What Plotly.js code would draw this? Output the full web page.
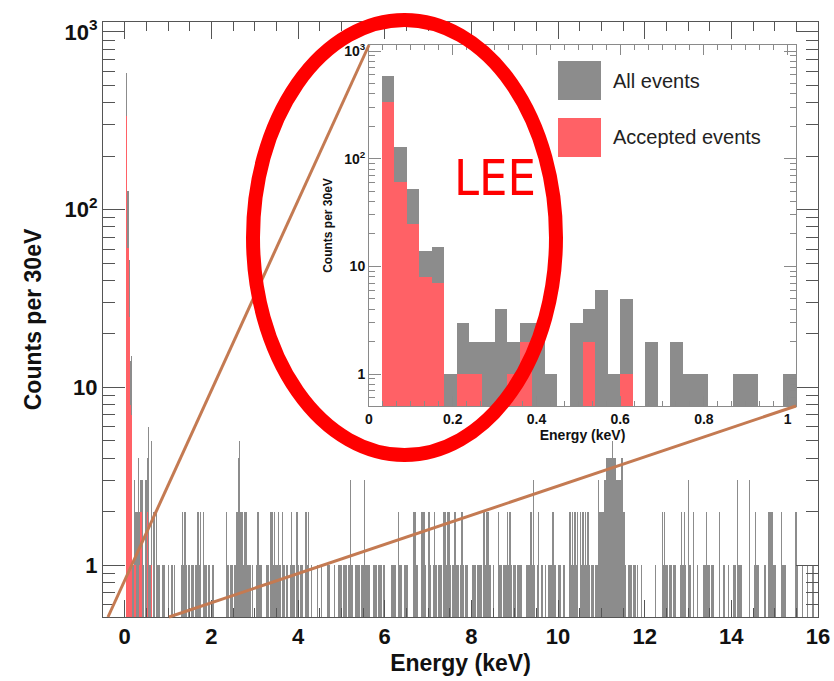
<!DOCTYPE html>
<html><head><meta charset="utf-8">
<script src="https://cdn.plot.ly/plotly-3.0.1.min.js"></script>
<style>html,body{margin:0;padding:0;background:#fff;}#chart{width:834px;height:681px;}</style>
</head><body><div id="chart"></div>
<script>
// ---- data: counts per 30 eV bin, bin i covers [0.03*i, 0.03*(i+1)] keV ----
const binWidthKeV = 0.03;
const allEventCounts = [
  0,590,128,52,14,15,1,3,2,2,   4,2,3,3,1,0,3,4,6,1,   5,0,2,0,2,1,1,0,0,1,
  1,0,0,1,0,0,1,0,1,0,          0,0,0,1,2,1,2,1,0,1,   0,1,1,0,1,1,2,1,2,0,
  2,1,1,0,1,1,0,1,1,0,          0,0,0,0,0,0,0,0,2,1,   0,1,1,0,1,1,2,4,5,2,
  2,1,2,2,1,1,1,0,1,0,          0,1,2,1,1,1,0,0,0,1,   1,0,2,2,1,2,1,1,2,1,
  0,2,1,0,1,1,0,1,2,1,          1,0,2,1,0,1,1,0,0,2,   1,2,0,1,0,0,0,0,1,0,
  0,1,0,0,0,0,1,1,0,0,          0,1,0,0,1,1,1,0,1,1,   1,0,1,3,1,1,0,1,1,1,
  1,0,1,1,3,1,1,1,1,0,          0,1,1,1,0,1,1,1,0,1,   0,0,0,0,0,1,1,1,1,0,
  2,1,1,0,0,1,1,1,0,0,          0,0,2,2,1,1,0,0,2,2,   2,1,0,2,2,1,0,1,2,1,
  0,1,1,1,0,2,2,1,2,2,          1,0,1,2,2,1,1,0,1,2,   1,0,1,1,0,0,0,1,1,1,
  0,1,1,1,1,0,2,1,2,2,          1,1,0,1,0,0,0,2,1,1,   0,1,1,1,2,1,2,1,0,1,
  1,0,1,1,1,1,0,0,0,1,          1,1,2,1,3,1,0,1,2,0,   1,1,0,1,0,0,1,1,1,2,
  1,1,0,1,1,1,0,1,1,0,          0,0,2,1,2,1,2,1,2,0,   2,1,2,1,2,1,2,1,0,1,
  1,0,1,1,3,2,2,2,2,3,          4,4,4,4,4,5,4,4,3,3,   3,3,4,2,2,1,0,1,1,1,
  0,1,1,0,1,0,0,1,0,0,          0,0,0,0,0,0,0,0,1,0,   0,0,0,2,1,2,1,1,0,1,
  1,0,1,1,0,0,0,1,2,1,          2,1,0,3,1,1,0,2,0,0,   1,0,0,0,0,1,1,2,1,1,
  0,1,1,0,0,0,0,2,0,0,          1,1,0,0,1,0,0,0,1,1,   0,3,1,1,1,0,0,0,0,0,
  3,0,0,0,1,2,1,1,0,0,          0,0,1,0,0,2,2,2,2,1,   1,0,0,0,0,2,1,1,1,0,
  0,0,0,0,0,0,2,1,0,0,          0,1,0,0,0,1,0,0,0,1,   0,0,0,1
];
const acceptedEventCounts = [0,337,61,25,8,7,0,1,1,0,0,1,2,0,0,0,0,2,0,0,1];
const seriesNames = ['All events', 'Accepted events'];
const mainXTitle = 'Energy (keV)';
const mainYTitle = 'Counts per 30eV';
const yTickVals = [1, 10, 100, 1000];
const yTickText = ['1', '10', '10<sup>2</sup>', '10<sup>3</sup>'];
const calloutLabel = 'LEE';

// ---- build histogram points (non-empty bins only) ----
function toBars(counts) {
  const xs = [], ys = [];
  counts.forEach((c, i) => { if (c > 0) { xs.push((i + 0.5) * binWidthKeV); ys.push(c); } });
  return {xs, ys};
}
const allBars = toBars(allEventCounts);
const accBars = toBars(acceptedEventCounts);

const grey = '#8c8c8c';
const red = '#ff6166';
const frame = '#555555';
const insetFrame = '#8a8a8a';
const boldFont = 'Liberation Sans, Arial, sans-serif';

const minorLogVals = [];
[0.1, 1, 10, 100].forEach(d => { for (let k = 2; k <= 9; k++) minorLogVals.push(k * d); });

const traces = [
  {type: 'bar', x: allBars.xs, y: allBars.ys, width: binWidthKeV, name: seriesNames[0],
   marker: {color: grey, line: {width: 0}}, xaxis: 'x', yaxis: 'y', showlegend: false, hoverinfo: 'x+y'},
  {type: 'bar', x: accBars.xs, y: accBars.ys, width: binWidthKeV, name: seriesNames[1],
   marker: {color: red, line: {width: 0}}, xaxis: 'x', yaxis: 'y', showlegend: false, hoverinfo: 'x+y'},
  {type: 'bar', x: allBars.xs, y: allBars.ys, width: binWidthKeV, name: seriesNames[0],
   marker: {color: grey, line: {width: 0}}, xaxis: 'x2', yaxis: 'y2', showlegend: false, hoverinfo: 'x+y'},
  {type: 'bar', x: accBars.xs, y: accBars.ys, width: binWidthKeV, name: seriesNames[1],
   marker: {color: red, line: {width: 0}}, xaxis: 'x2', yaxis: 'y2', showlegend: false, hoverinfo: 'x+y'}
];

// plot-area geometry helpers (pixel -> paper)
const L = 103, R = 818, T = 22, B = 617;
const px = v => (v - L) / (R - L);
const py = v => (B - v) / (B - T);

const insetDomX = [px(369), px(796)];
const insetDomY = [py(406), py(45)];

const layout = {
  width: 834, height: 681,
  margin: {l: L, r: 834 - R, t: T, b: 681 - B, pad: 0},
  paper_bgcolor: '#ffffff', plot_bgcolor: 'rgba(0,0,0,0)',
  barmode: 'overlay', bargap: 0,
  showlegend: false,
  xaxis: {
    domain: [0, 1], range: [-0.5, 16], tick0: 0, dtick: 2,
    ticks: 'inside', ticklen: 17, tickwidth: 1, tickcolor: frame,
    showline: true, linecolor: frame, linewidth: 1, mirror: 'allticks',
    showgrid: false, zeroline: false, automargin: false,
    minor: {ticks: 'inside', ticklen: 9, tickcolor: frame, tickwidth: 1, dtick: 0.5, tick0: 0, showgrid: false},
    tickfont: {family: boldFont, size: 22, color: '#111', weight: 'bold'},
    title: {text: mainXTitle, font: {family: boldFont, size: 23, color: '#111', weight: 'bold'}, standoff: 6}
  },
  yaxis: {
    domain: [0, 1], type: 'log', range: [-0.292, 3.056],
    tickmode: 'array', tickvals: yTickVals, ticktext: yTickText,
    ticks: 'inside', ticklen: 22, tickwidth: 1, tickcolor: frame,
    showline: true, linecolor: frame, linewidth: 1, mirror: 'allticks',
    showgrid: false, zeroline: false, automargin: false,
    minor: {ticks: 'inside', ticklen: 12, tickcolor: frame, tickwidth: 1, tickmode: 'array', tickvals: minorLogVals, showgrid: false},
    tickfont: {family: boldFont, size: 22, color: '#111', weight: 'bold'},
    title: {text: mainYTitle, font: {family: boldFont, size: 23, color: '#111', weight: 'bold'}, standoff: 16}
  },
  xaxis2: {
    anchor: 'y2', domain: insetDomX, range: [0, 1.02], tick0: 0, dtick: 0.2,
    ticks: 'inside', ticklen: 10, tickwidth: 1, tickcolor: insetFrame,
    showline: true, linecolor: insetFrame, linewidth: 1, mirror: 'allticks',
    showgrid: false, zeroline: false,
    minor: {ticks: 'inside', ticklen: 5, tickcolor: insetFrame, tickwidth: 1, dtick: 0.2 / 6, tick0: 0, showgrid: false},
    tickfont: {family: boldFont, size: 14, color: '#111', weight: 'bold'},
    title: {text: mainXTitle, font: {family: boldFont, size: 14, color: '#111', weight: 'bold'}, standoff: 2}
  },
  yaxis2: {
    anchor: 'x2', domain: insetDomY, type: 'log', range: [-0.297, 3.056],
    tickmode: 'array', tickvals: yTickVals, ticktext: yTickText,
    ticks: 'inside', ticklen: 12, tickwidth: 1, tickcolor: insetFrame,
    showline: true, linecolor: insetFrame, linewidth: 1, mirror: 'allticks',
    showgrid: false, zeroline: false,
    minor: {ticks: 'inside', ticklen: 6, tickcolor: insetFrame, tickwidth: 1, tickmode: 'array', tickvals: minorLogVals, showgrid: false},
    tickfont: {family: boldFont, size: 14, color: '#111', weight: 'bold'},
    title: {text: mainYTitle, font: {family: boldFont, size: 12, color: '#111', weight: 'bold'}, standoff: 8}
  },
  shapes: [
    // legend swatches inside inset
    {type: 'rect', xref: 'paper', yref: 'paper', x0: px(558), x1: px(601), y0: py(100), y1: py(61),
     fillcolor: grey, line: {width: 0}},
    {type: 'rect', xref: 'paper', yref: 'paper', x0: px(558), x1: px(601), y0: py(157), y1: py(118),
     fillcolor: red, line: {width: 0}},
    // zoom connector lines
    {type: 'line', xref: 'paper', yref: 'paper', x0: px(108), y0: 0, x1: insetDomX[0], y1: insetDomY[1],
     line: {color: '#c47a52', width: 3}},
    {type: 'line', xref: 'paper', yref: 'paper', x0: px(169), y0: 0, x1: insetDomX[1], y1: insetDomY[0],
     line: {color: '#c47a52', width: 3}},
    // highlight ellipse
    {type: 'circle', xref: 'paper', yref: 'paper', x0: px(253), x1: px(556), y0: py(455), y1: py(20),
     line: {color: '#ff0000', width: 14}, fillcolor: 'rgba(0,0,0,0)'}
  ],
  annotations: [
    {xref: 'paper', yref: 'paper', x: px(611), y: py(81), xanchor: 'left', yanchor: 'middle', showarrow: false,
     text: seriesNames[0], font: {family: 'Liberation Sans, Arial, sans-serif', size: 20, color: '#222'}},
    {xref: 'paper', yref: 'paper', x: px(611), y: py(137), xanchor: 'left', yanchor: 'middle', showarrow: false,
     text: seriesNames[1], font: {family: 'Liberation Sans, Arial, sans-serif', size: 20, color: '#222'}},
    {xref: 'paper', yref: 'paper', x: px(495), y: py(178), xanchor: 'center', yanchor: 'middle', showarrow: false,
     text: calloutLabel, font: {family: 'DejaVu Sans Condensed, Liberation Sans, sans-serif', size: 50, color: '#ff0000'}}
  ]
};

Plotly.newPlot('chart', traces, layout, {staticPlot: true, displayModeBar: false});
</script></body></html>
